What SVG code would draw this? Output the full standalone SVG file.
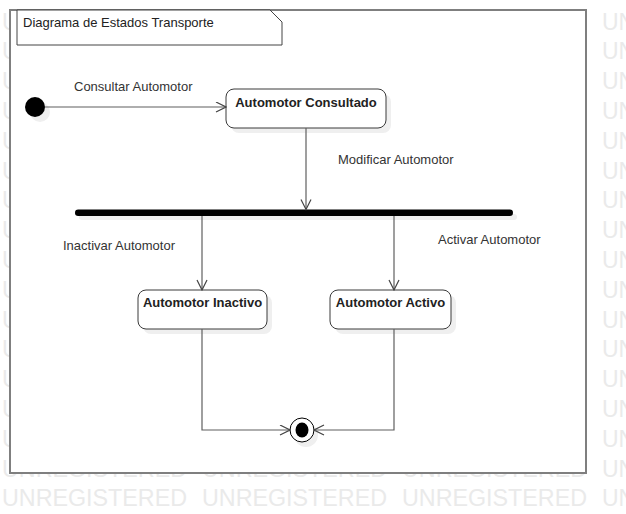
<svg xmlns="http://www.w3.org/2000/svg" xmlns:xlink="http://www.w3.org/1999/xlink" width="626" height="514" viewBox="0 0 626 514">
  <style>
    .wm { font-family: "Liberation Sans", Arial, sans-serif; font-size: 23px; fill: #eaeaea; }
    .lbl { font-family: "Liberation Sans", Arial, sans-serif; font-size: 13px; fill: #333333; }
    .st { font-family: "Liberation Sans", Arial, sans-serif; font-size: 13px; font-weight: bold; fill: #222222; text-anchor: middle; }
    .box { fill: #ffffff; stroke: #3a3a3a; stroke-width: 1; }
    .shadow { fill: #efefef; stroke: none; }
    .conn { fill: none; stroke: #5f5f5f; stroke-width: 1.2; marker-end: url(#arrow); }
  </style>
  <defs>
    <marker id="arrow" markerUnits="userSpaceOnUse" markerWidth="12" markerHeight="12" refX="11" refY="5.5" orient="auto">
      <path d="M1,0.5 L11,5.5 L1,10.5" fill="none" stroke="#444444" stroke-width="1.2"/>
    </marker>
    <g id="wmrow">
      <text class="wm" x="2" y="0" textLength="185" lengthAdjust="spacingAndGlyphs">UNREGISTERED</text>
      <text class="wm" x="202" y="0" textLength="185" lengthAdjust="spacingAndGlyphs">UNREGISTERED</text>
      <text class="wm" x="402" y="0" textLength="185" lengthAdjust="spacingAndGlyphs">UNREGISTERED</text>
      <text class="wm" x="602" y="0">UN</text>
    </g>
  </defs>

  <rect x="0" y="0" width="626" height="514" fill="#ffffff"/>

  <g id="watermark">
    <use xlink:href="#wmrow" y="29.5"/>
    <use xlink:href="#wmrow" y="59.3"/>
    <use xlink:href="#wmrow" y="89.1"/>
    <use xlink:href="#wmrow" y="118.9"/>
    <use xlink:href="#wmrow" y="148.7"/>
    <use xlink:href="#wmrow" y="178.5"/>
    <use xlink:href="#wmrow" y="208.3"/>
    <use xlink:href="#wmrow" y="238.1"/>
    <use xlink:href="#wmrow" y="267.9"/>
    <use xlink:href="#wmrow" y="297.7"/>
    <use xlink:href="#wmrow" y="327.5"/>
    <use xlink:href="#wmrow" y="357.3"/>
    <use xlink:href="#wmrow" y="387.1"/>
    <use xlink:href="#wmrow" y="416.9"/>
    <use xlink:href="#wmrow" y="446.7"/>
    <use xlink:href="#wmrow" y="476.5"/>
    <use xlink:href="#wmrow" y="506.3"/>
  </g>

  <g id="frame">
    <rect x="10" y="10" width="576" height="463" fill="#ffffff" stroke="#7f7f7f" stroke-width="2"/>
  </g>

  <g id="note">
    <path d="M17,10 H270 L282,22 V45 H17 Z" fill="#ffffff" stroke="#444444" stroke-width="1"/>
    <path d="M270,10 L282,22" fill="none" stroke="#444444" stroke-width="1"/>
    <text class="lbl" x="23" y="27" style="fill:#222222">Diagrama de Estados Transporte</text>
  </g>

  <g id="initial">
    <circle cx="40" cy="112" r="10" class="shadow"/>
    <circle cx="35" cy="107" r="10" fill="#000000"/>
  </g>

  <g id="consultado">
    <rect x="231" y="94" width="160" height="39" rx="8" class="shadow"/>
    <rect x="226" y="89" width="160" height="39" rx="8" class="box"/>
    <text class="st" x="306" y="107">Automotor Consultado</text>
  </g>

  <g id="fork">
    <rect x="79" y="214" width="438" height="6" rx="3" class="shadow"/>
    <rect x="75" y="209.5" width="438" height="6.5" rx="3.2" fill="#000000"/>
  </g>

  <g id="inactivo">
    <rect x="143" y="295" width="129" height="39" rx="8" class="shadow"/>
    <rect x="138" y="290" width="129" height="39" rx="8" class="box"/>
    <text class="st" x="202.5" y="307">Automotor Inactivo</text>
  </g>

  <g id="activo">
    <rect x="335" y="295" width="121" height="39" rx="8" class="shadow"/>
    <rect x="330" y="290" width="121" height="39" rx="8" class="box"/>
    <text class="st" x="390.5" y="307">Automotor Activo</text>
  </g>

  <g id="final">
    <circle cx="306" cy="435" r="12" class="shadow"/>
    <circle cx="302" cy="430" r="12" fill="#ffffff" stroke="#000000" stroke-width="1"/>
    <ellipse cx="302" cy="430" rx="6.5" ry="7.5" fill="#000000"/>
  </g>

  <g id="connectors">
    <path class="conn" d="M45,107 H226"/>
    <path class="conn" d="M306,128 V209.5"/>
    <path class="conn" d="M202,216 V290"/>
    <path class="conn" d="M394,216 V290"/>
    <path class="conn" d="M202,329 V430 H290"/>
    <path class="conn" d="M394,329 V430 H314"/>
  </g>

  <g id="labels">
    <text class="lbl" x="74" y="91">Consultar Automotor</text>
    <text class="lbl" x="338" y="164">Modificar Automotor</text>
    <text class="lbl" x="63" y="250">Inactivar Automotor</text>
    <text class="lbl" x="438" y="244">Activar Automotor</text>
  </g>
</svg>
